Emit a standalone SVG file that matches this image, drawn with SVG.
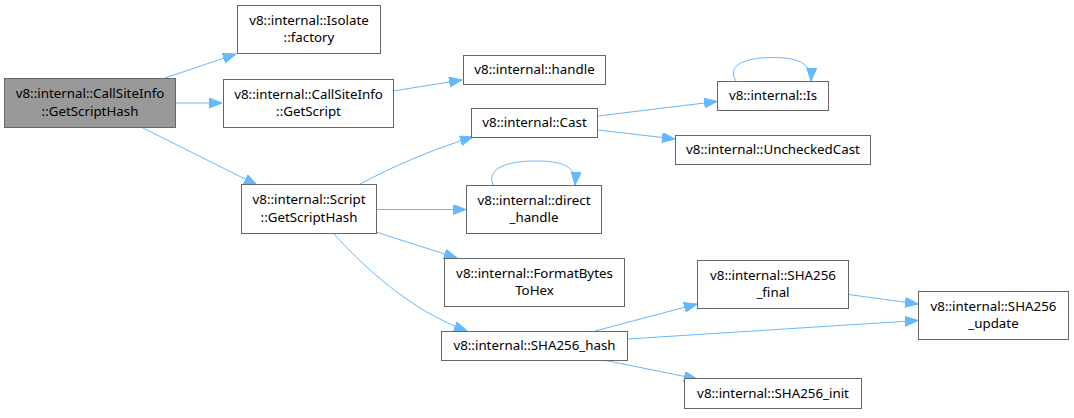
<svg xmlns="http://www.w3.org/2000/svg" width="1074" height="418" viewBox="0 0 1074 418">
<style>
.n rect{fill:#ffffff;stroke:#666666;stroke-width:1}
.n.root rect{fill:#999999}
.n text{font-family:"Noto Sans","DejaVu Sans",sans-serif;font-size:13.33px;fill:#000000;text-anchor:middle}
.e path{fill:none;stroke:#63b8ff;stroke-width:1;marker-end:url(#ah)}
</style>
<defs>
<marker id="ah" markerUnits="userSpaceOnUse" markerWidth="14" markerHeight="11" refX="13" refY="5" orient="auto">
<path d="M0,0 L13,5 L0,10 z" fill="#63b8ff" stroke="#63b8ff" stroke-width="1"/>
</marker>
</defs>
<rect width="1074" height="418" fill="#ffffff"/>
<g id="connectors" class="e">
<path d="M165,78 L236,54"/>
<path d="M176,103 L222,103"/>
<path d="M142,127.5 L257,185"/>
<path d="M393,91 L462,80"/>
<path d="M360,184 C390,168 430,150 473,137"/>
<path d="M376.5,209.5 L466,209.5"/>
<path d="M376,232 L457,258"/>
<path d="M334,234 C365,268 410,310 467,331"/>
<path d="M598,116 L717,101.5"/>
<path d="M598,130 L675,139"/>
<path d="M736,81 C726,65 745,57.5 773,57.5 C795,57.5 812,62 811,81"/>
<path d="M493,185 C486,168 508,161 535,161 C558,161 577,164 575,185"/>
<path d="M595,331 L697,304"/>
<path d="M627.5,339 L918,320.5"/>
<path d="M848.5,294.5 L918,304"/>
<path d="M606,360.5 L697,379"/>
</g>
<g id="node-callsiteinfo-getscripthash" class="n root">
<rect x="4.5" y="78.5" width="171" height="49"/>
<text x="90" y="98">v8::internal::CallSiteInfo</text>
<text x="90" y="115.5">::GetScriptHash</text>
</g>
<g id="node-isolate-factory" class="n">
<rect x="237.5" y="5.5" width="143" height="48"/>
<text x="309" y="25">v8::internal::Isolate</text>
<text x="309" y="42">::factory</text>
</g>
<g id="node-callsiteinfo-getscript" class="n">
<rect x="223.5" y="79.5" width="170" height="48"/>
<text x="308.5" y="99">v8::internal::CallSiteInfo</text>
<text x="308.5" y="116">::GetScript</text>
</g>
<g id="node-handle" class="n">
<rect x="463.5" y="55.5" width="142" height="29"/>
<text x="534.5" y="74">v8::internal::handle</text>
</g>
<g id="node-cast" class="n">
<rect x="471.5" y="108.5" width="126" height="29"/>
<text x="534.5" y="127">v8::internal::Cast</text>
</g>
<g id="node-is" class="n">
<rect x="717.5" y="81.5" width="111" height="29"/>
<text x="773" y="100">v8::internal::Is</text>
</g>
<g id="node-uncheckedcast" class="n">
<rect x="675.5" y="135.5" width="195" height="29"/>
<text x="773" y="154">v8::internal::UncheckedCast</text>
</g>
<g id="node-script-getscripthash" class="n">
<rect x="241.5" y="184.5" width="135" height="49"/>
<text x="309" y="204">v8::internal::Script</text>
<text x="309" y="221.5">::GetScriptHash</text>
</g>
<g id="node-direct-handle" class="n">
<rect x="466.5" y="185.5" width="135" height="48"/>
<text x="534" y="205">v8::internal::direct</text>
<text x="534" y="222">_handle</text>
</g>
<g id="node-formatbytestohex" class="n">
<rect x="444.5" y="258.5" width="180" height="48"/>
<text x="534.5" y="278">v8::internal::FormatBytes</text>
<text x="534.5" y="295">ToHex</text>
</g>
<g id="node-sha256-hash" class="n">
<rect x="441.5" y="331.5" width="186" height="29"/>
<text x="534.5" y="350">v8::internal::SHA256_hash</text>
</g>
<g id="node-sha256-final" class="n">
<rect x="697.5" y="260.5" width="151" height="48"/>
<text x="773" y="280">v8::internal::SHA256</text>
<text x="773" y="297">_final</text>
</g>
<g id="node-sha256-update" class="n">
<rect x="918.5" y="291.5" width="150" height="48"/>
<text x="993.5" y="311">v8::internal::SHA256</text>
<text x="993.5" y="328">_update</text>
</g>
<g id="node-sha256-init" class="n">
<rect x="684.5" y="378.5" width="177" height="30"/>
<text x="773" y="398">v8::internal::SHA256_init</text>
</g>
</svg>
